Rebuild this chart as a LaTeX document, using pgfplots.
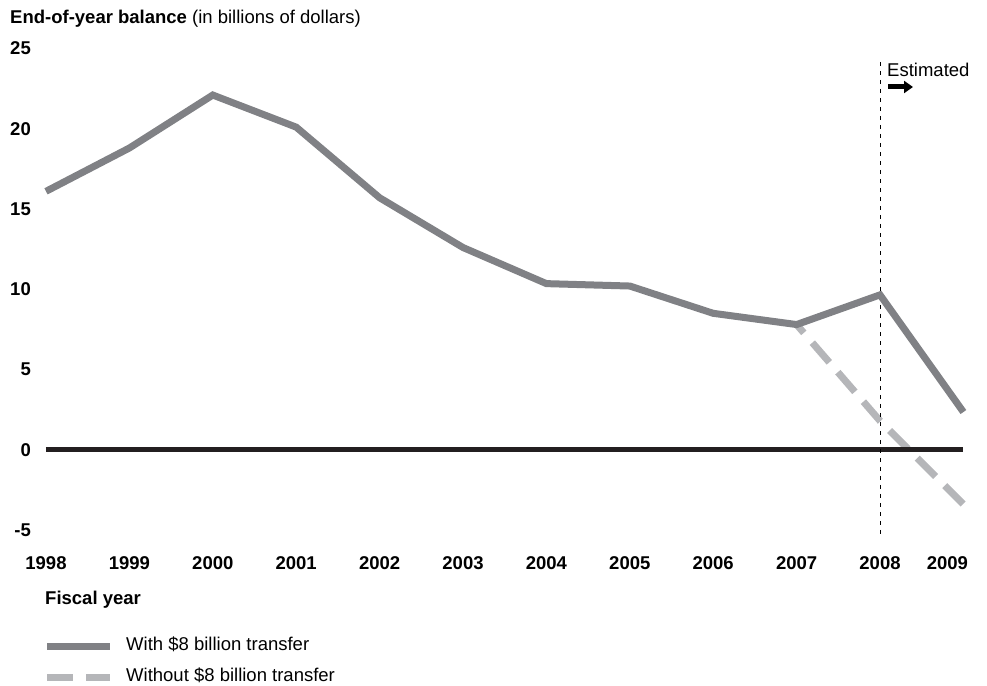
\documentclass[border=0pt]{standalone}
\usepackage{fontspec}
\setmainfont{Liberation Sans}
\usepackage{pgfplots}
\pgfplotsset{compat=1.18}
\usetikzlibrary{arrows.meta}
\definecolor{darkline}{RGB}{128,129,133}
\definecolor{lightline}{RGB}{181,182,185}
\definecolor{zeroline}{RGB}{35,31,32}
\newcommand{\chartfont}{\fontsize{18.5}{22}\selectfont}
\begin{document}
\begin{tikzpicture}
\useasboundingbox (0,0) rectangle (987pt,685pt);
\begin{axis}[
  at={(46pt,155pt)}, anchor=south west,
  scale only axis, width=917.4pt, height=481.5pt,
  xmin=1998, xmax=2009, ymin=-5, ymax=25,
  enlargelimits=false, clip=false,
  axis line style={draw=none},
  major tick length=0pt,
  xtick={1998,1999,2000,2001,2002,2003,2004,2005,2006,2007,2008,2009},
  xticklabels={1998,1999,2000,2001,2002,2003,2004,2005,2006,2007,2008,{2009\hspace*{32pt}}},
  ytick={-5,0,5,10,15,20,25},
  yticklabels={-5,0,5,10,15,20,25},
  ticklabel style={font=\chartfont\bfseries},
  xticklabel style={anchor=north, inner sep=0pt, yshift=-26.2pt},
  yticklabel style={anchor=east, inner sep=0pt, xshift=-15pt},
]
\addplot[lightline, line width=7pt, dash pattern=on 26pt off 13pt, dash phase=15pt]
  coordinates {(2007,7.8) (2008,1.8) (2009,-3.4)};
\addplot[zeroline, line width=4.5pt] coordinates {(1998,0) (2009,0)};
\draw[black, line width=1pt, dash pattern=on 4pt off 5pt] (axis cs:2008,24.17) -- (axis cs:2008,-5.48);
\addplot[darkline, line width=7pt]
  coordinates {(1998,16.1) (1999,18.8) (2000,22.1) (2001,20.1) (2002,15.7) (2003,12.6)
               (2004,10.35) (2005,10.2) (2006,8.5) (2007,7.8) (2008,9.65) (2009,2.35)};
\end{axis}
\node[anchor=base west, inner sep=0pt, font=\chartfont] at (10pt,661.7pt)
  {\textbf{End-of-year balance} (in billions of dollars)};
\node[anchor=base west, inner sep=0pt, font=\chartfont] at (887pt,608.3pt) {Estimated};
\draw[black, line width=5pt, -{Triangle[length=9pt,width=12pt]}] (888pt,598pt) -- (913pt,598pt);
\node[anchor=base west, inner sep=0pt, font=\chartfont\bfseries] at (45pt,81pt) {Fiscal year};
\draw[darkline, line width=7pt] (47pt,39pt) -- (110pt,39pt);
\draw[lightline, line width=7pt, dash pattern=on 26pt off 13pt] (47pt,8pt) -- (110pt,8pt);
\node[anchor=base west, inner sep=0pt, font=\chartfont] at (126pt,34.3pt) {With \$8 billion transfer};
\node[anchor=base west, inner sep=0pt, font=\chartfont] at (126pt,3.3pt) {Without \$8 billion transfer};
\end{tikzpicture}
\end{document}
